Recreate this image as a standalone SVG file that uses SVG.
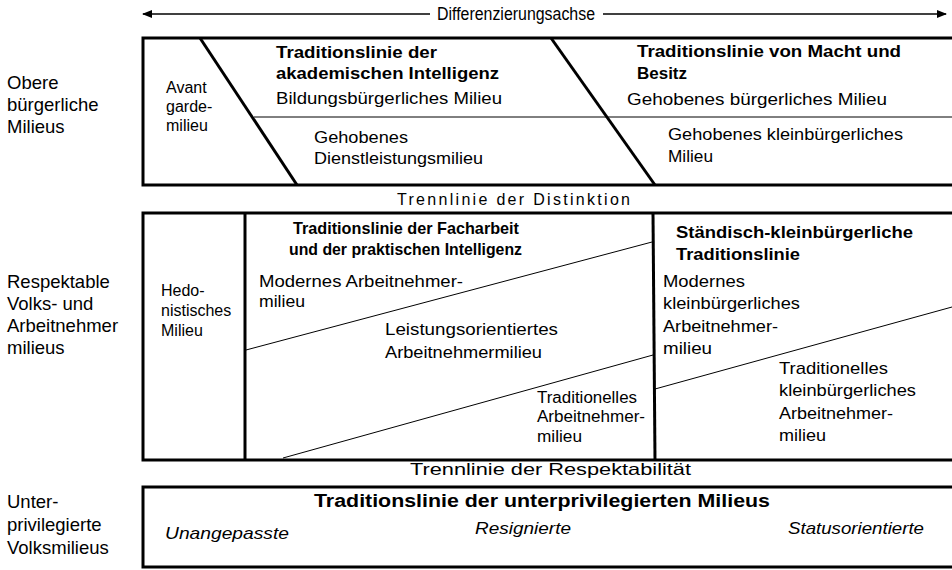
<svg xmlns="http://www.w3.org/2000/svg" width="952" height="570" viewBox="0 0 952 570">
<style>
text{font-family:"Liberation Sans",Arial,sans-serif;font-size:17px;fill:#000}
.b{font-weight:bold}
.s{font-size:16px}
.l{font-size:18.5px}
.i{font-style:italic}
.thick{stroke:#000;stroke-width:3;fill:none}
.thin{stroke:#000;stroke-width:1;fill:none}
</style>
<defs>
<marker id="ah" viewBox="0 0 10 10" refX="9" refY="5" markerWidth="10" markerHeight="10" markerUnits="userSpaceOnUse" orient="auto-start-reverse">
<path d="M0,1 L10,5 L0,9 z" fill="#000"/>
</marker>
</defs>
<rect width="952" height="570" fill="#fff"/>

<g id="axis">
<line x1="143" y1="14" x2="430" y2="14" stroke="#000" stroke-width="1.5" marker-start="url(#ah)"/>
<line x1="603" y1="14" x2="946" y2="14" stroke="#000" stroke-width="1.5" marker-end="url(#ah)"/>
<text x="437" y="20" style="font-size:17.5px" textLength="158" lengthAdjust="spacingAndGlyphs">Differenzierungsachse</text>
</g>

<g id="row-labels">
<text class="l" x="7" y="89">Obere</text>
<text class="l" x="7" y="111">bürgerliche</text>
<text class="l" x="7" y="133">Milieus</text>
<text class="l" x="7" y="288">Respektable</text>
<text class="l" x="7" y="310">Volks- und</text>
<text class="l" x="7" y="332">Arbeitnehmer</text>
<text class="l" x="7" y="354">milieus</text>
<text class="l" x="7" y="508">Unter-</text>
<text class="l" x="7" y="531">privilegierte</text>
<text class="l" x="7" y="554">Volksmilieus</text>
</g>

<g id="upper-box">
<path class="thick" d="M956,38 H143 V185 H956"/>
<line class="thick" x1="200" y1="38" x2="297" y2="185"/>
<line class="thick" x1="551" y1="38" x2="655" y2="185"/>
<line class="thin" x1="254" y1="117" x2="952" y2="117"/>
</g>

<g id="avantgarde">
<text class="s" x="166" y="93">Avant</text>
<text class="s" x="166" y="112">garde-</text>
<text class="s" x="166" y="131">milieu</text>
</g>

<g id="akademische-intelligenz">
<text class="b" x="276" y="58" textLength="161" lengthAdjust="spacingAndGlyphs">Traditionslinie  der</text>
<text class="b" x="276" y="79" textLength="223" lengthAdjust="spacingAndGlyphs">akademischen Intelligenz</text>
<text x="276" y="104" textLength="226" lengthAdjust="spacingAndGlyphs">Bildungsbürgerliches  Milieu</text>
<text x="314" y="143" textLength="94" lengthAdjust="spacingAndGlyphs">Gehobenes</text>
<text x="314" y="164" textLength="169" lengthAdjust="spacingAndGlyphs">Dienstleistungsmilieu</text>
</g>

<g id="macht-besitz">
<text class="b" x="637" y="57" textLength="264" lengthAdjust="spacingAndGlyphs">Traditionslinie  von Macht und</text>
<text class="b" x="637" y="79" textLength="50" lengthAdjust="spacingAndGlyphs">Besitz</text>
<text x="627" y="105" textLength="260" lengthAdjust="spacingAndGlyphs">Gehobenes  bürgerliches  Milieu</text>
<text x="668" y="140" textLength="235" lengthAdjust="spacingAndGlyphs">Gehobenes  kleinbürgerliches</text>
<text x="668" y="162" textLength="45" lengthAdjust="spacingAndGlyphs">Milieu</text>
</g>

<g id="distinktion">
<text x="397" y="205" style="font-size:16px" textLength="233" lengthAdjust="spacing">Trennlinie  der Distinktion</text>
</g>

<g id="middle-box">
<path class="thick" d="M956,213 H143 V460 H956"/>
<line class="thick" x1="245" y1="213" x2="245" y2="460"/>
<line class="thick" x1="653" y1="213" x2="655" y2="460"/>
<line class="thin" x1="246" y1="350" x2="652" y2="242"/>
<line class="thin" x1="283" y1="458" x2="653" y2="355"/>
<line class="thin" x1="655" y1="389" x2="952" y2="307"/>
</g>

<g id="hedonistisch">
<text class="s" x="161" y="296">Hedo-</text>
<text class="s" x="161" y="316">nistisches</text>
<text class="s" x="161" y="336">Milieu</text>
</g>

<g id="facharbeit">
<text class="b" x="293" y="234" textLength="226" lengthAdjust="spacingAndGlyphs">Traditionslinie  der Facharbeit</text>
<text class="b" x="289" y="255" textLength="233" lengthAdjust="spacingAndGlyphs">und der praktischen Intelligenz</text>
<text x="259" y="287" textLength="204" lengthAdjust="spacingAndGlyphs">Modernes Arbeitnehmer-</text>
<text x="259" y="307" textLength="46" lengthAdjust="spacingAndGlyphs">milieu</text>
<text x="385" y="335" textLength="173" lengthAdjust="spacingAndGlyphs">Leistungsorientiertes</text>
<text x="385" y="358" textLength="157" lengthAdjust="spacingAndGlyphs">Arbeitnehmermilieu</text>
<text class="s" x="537" y="403" textLength="100" lengthAdjust="spacingAndGlyphs">Traditionelles</text>
<text class="s" x="537" y="422" textLength="108" lengthAdjust="spacingAndGlyphs">Arbeitnehmer-</text>
<text class="s" x="537" y="442" textLength="45" lengthAdjust="spacingAndGlyphs">milieu</text>
</g>

<g id="kleinbuergerlich">
<text class="b" x="676" y="238" textLength="237" lengthAdjust="spacingAndGlyphs">Ständisch-kleinbürgerliche</text>
<text class="b" x="676" y="260" textLength="124" lengthAdjust="spacingAndGlyphs">Traditionslinie</text>
<text x="663" y="287" textLength="82" lengthAdjust="spacingAndGlyphs">Modernes</text>
<text x="663" y="309" textLength="137" lengthAdjust="spacingAndGlyphs">kleinbürgerliches</text>
<text x="663" y="332" textLength="115" lengthAdjust="spacingAndGlyphs">Arbeitnehmer-</text>
<text x="663" y="354" textLength="49" lengthAdjust="spacingAndGlyphs">milieu</text>
<text x="779" y="374" textLength="109" lengthAdjust="spacingAndGlyphs">Traditionelles</text>
<text x="779" y="396" textLength="137" lengthAdjust="spacingAndGlyphs">kleinbürgerliches</text>
<text x="779" y="419" textLength="114" lengthAdjust="spacingAndGlyphs">Arbeitnehmer-</text>
<text x="779" y="441" textLength="47" lengthAdjust="spacingAndGlyphs">milieu</text>
</g>

<g id="respektabilitaet">
<text x="410" y="475" style="font-size:16.5px" textLength="281" lengthAdjust="spacingAndGlyphs">Trennlinie der Respektabilität</text>
</g>

<g id="lower-box">
<path class="thick" d="M956,487 H143 V567 H956"/>
<text class="b" x="314" y="507" style="font-size:18px" textLength="456" lengthAdjust="spacingAndGlyphs">Traditionslinie der unterprivilegierten Milieus</text>
<text class="i" x="165" y="539" textLength="124" lengthAdjust="spacingAndGlyphs">Unangepasste</text>
<text class="i" x="475" y="534" textLength="96" lengthAdjust="spacingAndGlyphs">Resignierte</text>
<text class="i" x="788" y="534" textLength="136" lengthAdjust="spacingAndGlyphs">Statusorientierte</text>
</g>
</svg>
